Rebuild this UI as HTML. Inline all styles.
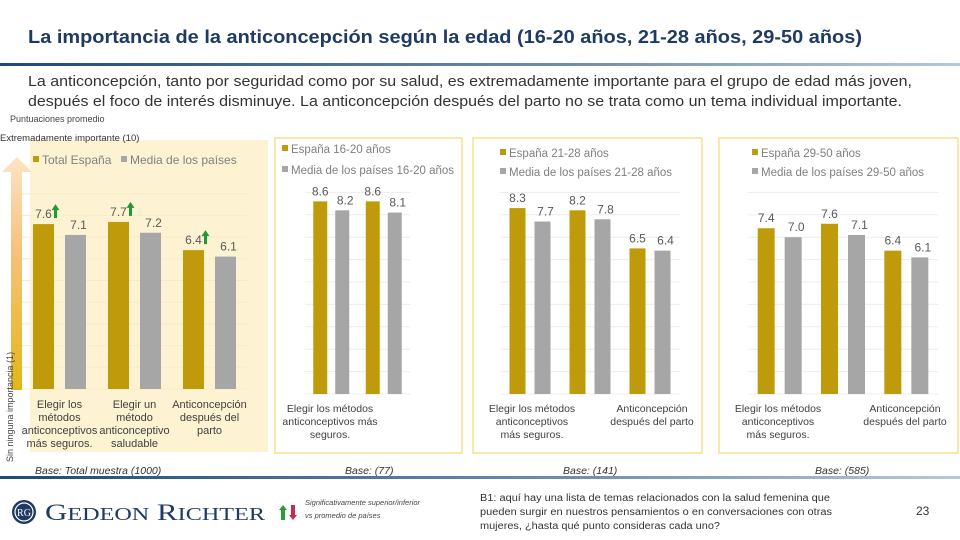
<!DOCTYPE html>
<html><head><meta charset="utf-8">
<style>
html,body{margin:0;padding:0;background:#fff;}
body{width:960px;height:540px;position:relative;overflow:hidden;font-family:"Liberation Sans",sans-serif;}
svg{position:absolute;left:0;top:0;}
</style></head>
<body>
<svg id="s" width="960" height="540" viewBox="0 0 960 540" xmlns="http://www.w3.org/2000/svg">
<defs>
<linearGradient id="lineg" x1="0" x2="1" y1="0" y2="0"><stop offset="0" stop-color="#1d4a78"/><stop offset="0.6" stop-color="#6f8fb0"/><stop offset="1" stop-color="#b8c8da"/></linearGradient>
<linearGradient id="arrg" x1="0" x2="0" y1="0" y2="1"><stop offset="0" stop-color="#fde3c6"/><stop offset="0.4" stop-color="#f7c27a"/><stop offset="1" stop-color="#e2b61a"/></linearGradient>
</defs>
<text x="28" y="43" font-size="18.5" font-weight="bold" fill="#1f3b63" textLength="834" lengthAdjust="spacingAndGlyphs">La importancia de la anticoncepción según la edad (16-20 años, 21-28 años, 29-50 años)</text>
<rect x="0" y="63" width="960" height="3" fill="url(#lineg)"/>
<text x="28" y="86" font-size="14.5" fill="#333" textLength="884" lengthAdjust="spacingAndGlyphs">La anticoncepción, tanto por seguridad como por su salud, es extremadamente importante para el grupo de edad más joven,</text>
<text x="28" y="106" font-size="14.5" fill="#333" textLength="874" lengthAdjust="spacingAndGlyphs">después el foco de interés disminuye. La anticoncepción después del parto no se trata como un tema individual importante.</text>
<text x="10" y="122" font-size="9" fill="#444">Puntuaciones promedio</text>
<rect x="30" y="140" width="238" height="312" fill="#fdf3d2"/>
<text x="0" y="141" font-size="9.5" fill="#333">Extremadamente importante (10)</text>
<polygon points="2,172 17,157 32,172 22,172 22,390 11,390 11,172" fill="url(#arrg)"/>
<text transform="translate(13,462) rotate(-90)" font-size="9" fill="#444">Sin ninguna importancia (1)</text>
<rect x="275" y="138" width="187" height="315" fill="none" stroke="#f3e38a" stroke-width="1.5"/>
<rect x="473" y="138" width="229" height="315" fill="none" stroke="#f3e38a" stroke-width="1.5"/>
<rect x="719" y="138" width="239" height="315" fill="none" stroke="#f3e38a" stroke-width="1.5"/>
<g id="charts"></g>
<g font-size="10.5" font-style="italic" fill="#333">
<text x="35" y="474">Base: Total muestra (1000)</text>
<text x="345" y="474">Base: (77)</text>
<text x="563" y="474">Base: (141)</text>
<text x="815" y="474">Base: (585)</text>
</g>
<rect x="0" y="476" width="960" height="3" fill="url(#lineg)"/>
<g>
<circle cx="24" cy="512" r="12" fill="#1f3b63"/>
<circle cx="24" cy="512" r="9" fill="none" stroke="#fff" stroke-width="1.2"/>
<text x="24" y="516" font-size="10" font-family="Liberation Serif,serif" fill="#fff" text-anchor="middle">RG</text>
<text x="45" y="520" font-size="23" font-family="Liberation Serif,serif" fill="#1f3b63" textLength="220" lengthAdjust="spacingAndGlyphs">G<tspan font-size="18">EDEON</tspan> R<tspan font-size="18">ICHTER</tspan></text>
</g>
<polygon points="283,505 287,510 285,510 285,520 281,520 281,510 279,510" fill="#2a9d3a"/>
<polygon points="293,520 297,515 295,515 295,505 291,505 291,515 289,515" fill="#c0304a"/>
<text x="305" y="505" font-size="7.5" font-style="italic" fill="#444">Significativamente superior/inferior</text>
<text x="305" y="518" font-size="7.5" font-style="italic" fill="#444">vs promedio de países</text>
<g font-size="10" fill="#333">
<text x="480" y="501" textLength="350" lengthAdjust="spacingAndGlyphs">B1: aquí hay una lista de temas relacionados con la salud femenina que</text>
<text x="480" y="515" textLength="352" lengthAdjust="spacingAndGlyphs">pueden surgir en nuestros pensamientos o en conversaciones con otras</text>
<text x="480" y="529" textLength="240" lengthAdjust="spacingAndGlyphs">mujeres, ¿hasta qué punto consideras cada uno?</text>
</g>
<text x="916" y="515" font-size="12" fill="#333">23</text>
</svg>
<script>
// Panel 1: Total
const p1Categories = [["Elegir los","métodos","anticonceptivos","más seguros."],["Elegir un","método","anticonceptivo","saludable"],["Anticoncepción","después del","parto"]];
const p1Spain = [7.6, 7.7, 6.4];
const p1Avg = [7.1, 7.2, 6.1];
const p1Sig = [true, true, true];
// Panel 2: 16-20
const p2Categories = [["Elegir los métodos","anticonceptivos más","seguros."],[]];
const p2Spain = [8.6, 8.6];
const p2Avg = [8.2, 8.1];
// Panel 3: 21-28
const p3Categories = [["Elegir los métodos","anticonceptivos","más seguros."],[],["Anticoncepción","después del parto"]];
const p3Spain = [8.3, 8.2, 6.5];
const p3Avg = [7.7, 7.8, 6.4];
// Panel 4: 29-50
const p4Categories = [["Elegir los métodos","anticonceptivos","más seguros."],[],["Anticoncepción","después del parto"]];
const p4Spain = [7.4, 7.6, 6.4];
const p4Avg = [7.0, 7.1, 6.1];
const legendNames = [["Total España","Media de los países"],["España 16-20 años","Media de los países 16-20 años"],["España 21-28 años","Media de los países 21-28 años"],["España 29-50 años","Media de los países 29-50 años"]];

const NS="http://www.w3.org/2000/svg";
const g=document.getElementById('charts');
function mk(tag,attrs,parent){const e=document.createElementNS(NS,tag);for(const k in attrs)e.setAttribute(k,attrs[k]);(parent||g).appendChild(e);return e;}
const GOLD="#bf9b0c", GRAY="#a6a6a6";

function drawPanel(cfg){
  const {x0,x1,base,unit,cats,sp,av,bw,gap,grid,gridColor,fs,sig,labY,labFs,lab,id}=cfg;
  const y=v=>base-v*unit;
  const n=sp.length, cw=(x1-x0)/n;
  if(grid){for(let i=0;i<=9;i++){const l=mk('line',{x1:x0,x2:x1,y1:y(i),y2:y(i),stroke:gridColor,'stroke-width':1});
    
    }}
  for(let i=0;i<n;i++){
    const cx=x0+cw*(i+0.5);
    const gx=cx-gap/2-bw, ax=cx+gap/2;
    const b1=mk('rect',{x:gx,y:y(sp[i]),width:bw,height:sp[i]*unit,fill:GOLD});
    
    
    const b2=mk('rect',{x:ax,y:y(av[i]),width:bw,height:av[i]*unit,fill:GRAY});
    
    
    const t1=mk('text',{x:gx+bw/2,y:y(sp[i])-6,'font-size':fs,fill:'#595959','text-anchor':'middle'});
    t1.textContent=sp[i].toFixed(1);
    
    
    const t2=mk('text',{x:ax+bw/2+3,y:y(av[i])-6,'font-size':fs,fill:'#595959','text-anchor':'middle'});
    t2.textContent=av[i].toFixed(1);
    
    
    if(sig&&sig[i]){const ux=gx+bw/2+12, uy=y(sp[i])-6;
      const a=mk('polygon',{points:`${ux},${uy-14} ${ux+4},${uy-8} ${ux+1.5},${uy-8} ${ux+1.5},${uy} ${ux-1.5},${uy} ${ux-1.5},${uy-8} ${ux-4},${uy-8}`,fill:'#1f9a3a'});
      
      }
    const lines=cats[i];
    for(let j=0;j<lines.length;j++){
      const lx=(lab&&lab[i]!=null)?lab[i]:cx;
      const t=mk('text',{x:lx,y:labY+j*13,'font-size':labFs,fill:'#404040','text-anchor':'middle'});
      t.textContent=lines[j];
      
      
    }
  }
}
function legend(id,names,lx,ly1,ly2,fs,inline){
  const pos=inline?[[lx,ly1],[lx+88,ly1]]:[[lx,ly1],[lx,ly2]];
  [GOLD,GRAY].forEach((c,k)=>{
    const m=mk('rect',{x:pos[k][0],y:pos[k][1]-4,width:6,height:6,fill:c});
    
    
    const t=mk('text',{x:pos[k][0]+9,y:pos[k][1]+4,'font-size':fs,fill:'#7f7f7f'});
    t.textContent=names[k];
    
    
  });
}
drawPanel({id:'total',x0:22,x1:247,base:389,unit:21.7,cats:p1Categories,sp:p1Spain,av:p1Avg,bw:21,gap:11,grid:true,gridColor:'#f6ecc4',fs:12,sig:p1Sig,labY:408,labFs:11});
legend('total',legendNames[0],33,160,0,12,true);
drawPanel({id:'age-16-20',x0:305,x1:410,base:394,unit:22.4,cats:p2Categories,sp:p2Spain,av:p2Avg,bw:14,gap:8,grid:true,gridColor:'#ececec',fs:12,labY:412,labFs:10.5,lab:[330]});
legend('age-16-20',legendNames[1],282,149,170,11.5,false);
drawPanel({id:'age-21-28',x0:500,x1:680,base:394,unit:22.4,cats:p3Categories,sp:p3Spain,av:p3Avg,bw:16,gap:9,grid:true,gridColor:'#ececec',fs:12,labY:412,labFs:10.5,lab:[532,null,652]});
legend('age-21-28',legendNames[2],500,153,172,11.5,false);
drawPanel({id:'age-29-50',x0:748,x1:938,base:394,unit:22.4,cats:p4Categories,sp:p4Spain,av:p4Avg,bw:17,gap:10,grid:true,gridColor:'#ececec',fs:12,labY:412,labFs:10.5,lab:[778,null,905]});
legend('age-29-50',legendNames[3],752,153,172,11.5,false);
</script>
</body></html>
